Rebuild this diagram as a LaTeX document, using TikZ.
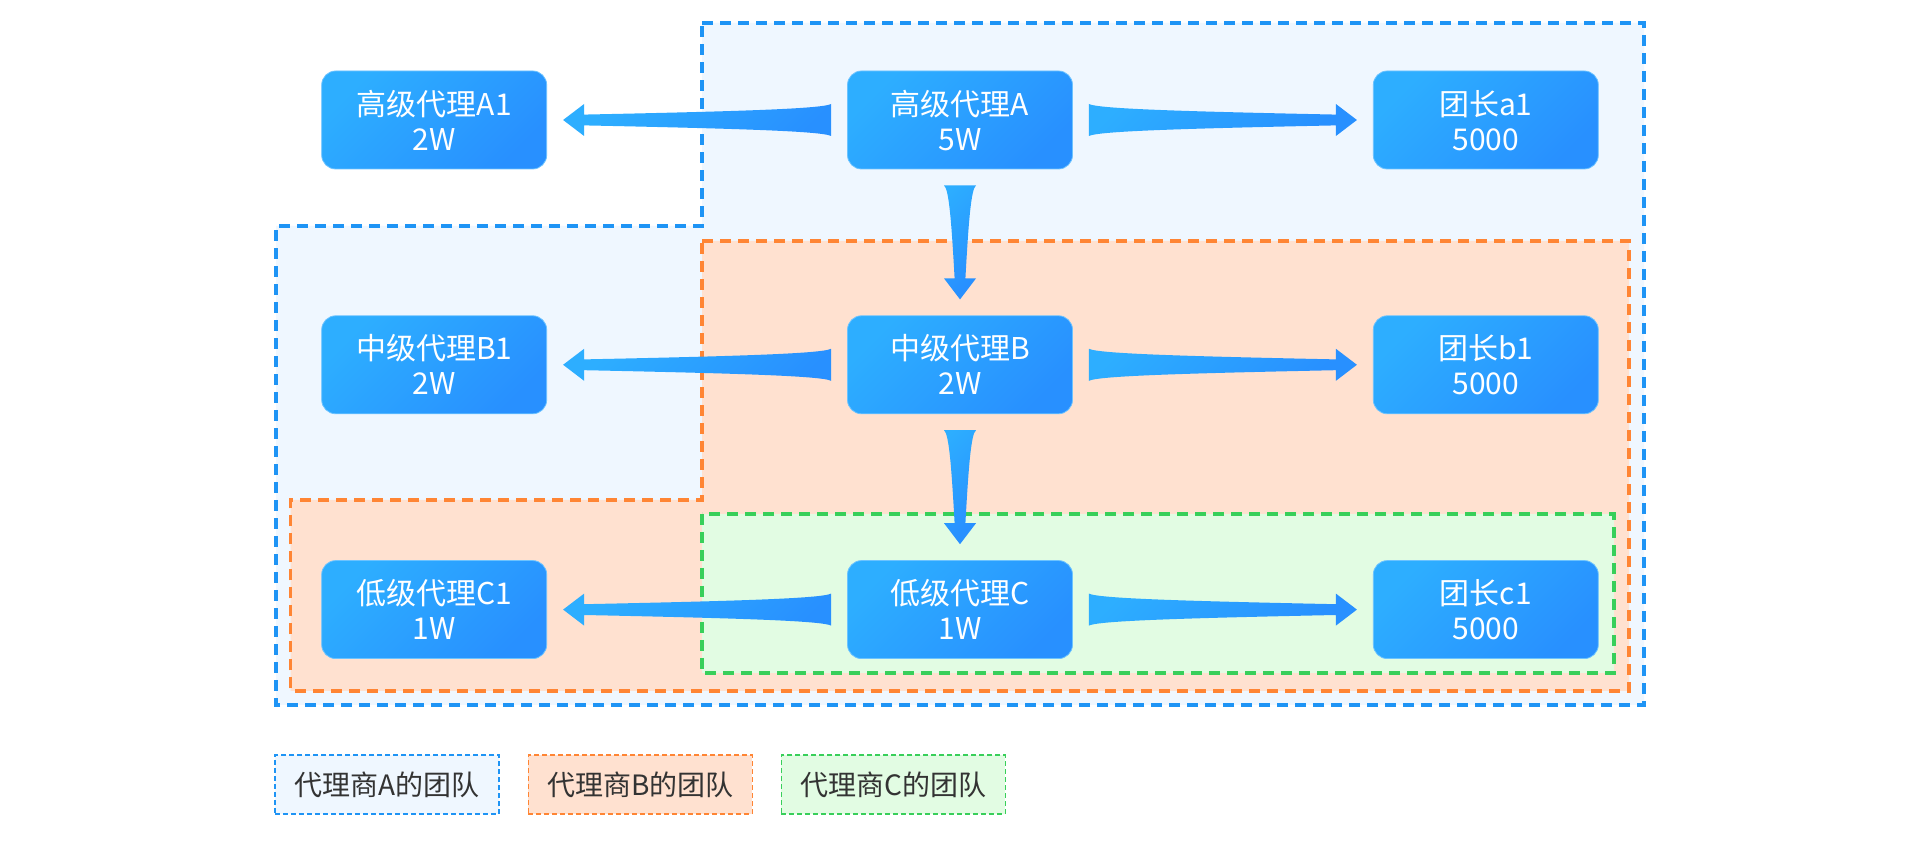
\documentclass[tikz,border=0pt]{standalone}
\usepackage{fontspec}
\setmainfont{Noto Sans CJK SC}
\usetikzlibrary{calc, positioning}

\definecolor{boxlight}{HTML}{2DAEFF}
\definecolor{boxdark}{HTML}{2890FF}
\definecolor{boxedge}{HTML}{6CC3FF}
\definecolor{teamAfill}{HTML}{EFF7FF}
\definecolor{teamAline}{HTML}{1E94F5}
\definecolor{teamBfill}{HTML}{FFE1D0}
\definecolor{teamBline}{HTML}{FF8534}
\definecolor{teamCfill}{HTML}{E2FCE3}
\definecolor{teamCline}{HTML}{38CF5A}
\definecolor{keytext}{HTML}{333333}

\begin{document}
\begin{tikzpicture}[x=1pt, y=1pt, node distance={73pt and 150pt},
  agent/.style={rounded corners=7pt, minimum width=112.5pt, minimum height=49pt, inner sep=0pt,
    top color=boxlight, bottom color=boxdark, shading angle=45, draw=boxedge, line width=0.4pt,
    text=white, align=center, text depth=0pt, font=\fontsize{15pt}{17.5pt}\selectfont},
  team/.style={line width=1.7pt, dash pattern=on 5.5pt off 3.5pt},
  key/.style={minimum width=112pt, minimum height=29.5pt, line width=0.6pt, dash pattern=on 2.5pt off 1.5pt,
    text=keytext, font=\fontsize{14pt}{16pt}\selectfont},
  flow/.style={top color=boxlight, bottom color=boxdark, shading angle=45,
    to path={let \p1=(\tikztostart), \p2=(\tikztotarget),
        \n1={veclen(\x2-\x1,\y2-\y1)}, \n2={(\x2-\x1)/\n1}, \n3={(\y2-\y1)/\n1},
        \n4={\n1-26.5}, \n5={8+0.04*\n4}, \n6={8+0.4*\n4}, \n7={\n1-18.5}, \n8={\n1-8} in
      ({\x1+8*\n2-8*\n3},{\y1+8*\n3+8*\n2})
      .. controls ({\x1+\n5*\n2-5.5*\n3},{\y1+\n5*\n3+5.5*\n2}) and ({\x1+\n6*\n2-4.25*\n3},{\y1+\n6*\n3+4.25*\n2})
      .. ({\x1+\n7*\n2-2.7*\n3},{\y1+\n7*\n3+2.7*\n2})
      -- ({\x1+\n7*\n2-8*\n3},{\y1+\n7*\n3+8*\n2})
      -- ({\x1+\n8*\n2},{\y1+\n8*\n3})
      -- ({\x1+\n7*\n2+8*\n3},{\y1+\n7*\n3-8*\n2})
      -- ({\x1+\n7*\n2+2.7*\n3},{\y1+\n7*\n3-2.7*\n2})
      .. controls ({\x1+\n6*\n2+4.25*\n3},{\y1+\n6*\n3-4.25*\n2}) and ({\x1+\n5*\n2+5.5*\n3},{\y1+\n5*\n3-5.5*\n2})
      .. ({\x1+8*\n2+8*\n3},{\y1+8*\n3-8*\n2}) -- cycle}}]
  \fill[white] (0,0) rectangle (960,420);

  % team areas
  \filldraw[team, fill=teamAfill, draw=teamAline] (351,408.5) -- (822,408.5) -- (822,67.5) -- (138,67.5) -- (138,307) -- (351,307) -- cycle;
  \filldraw[team, fill=teamBfill, draw=teamBline] (351,299.5) -- (814.5,299.5) -- (814.5,74.5) -- (145.25,74.5) -- (145.25,170) -- (351,170) -- cycle;
  \filldraw[team, fill=teamCfill, draw=teamCline] (351,163) rectangle (807,83.5);

  % agents
  \node[agent] (A) at (480,360) {高级代理A\\5W};
  \node[agent, left=of A] (A1) {高级代理A1\\2W};
  \node[agent, right=of A] (a1) {团长a1\\5000};
  \node[agent, below=of A] (B) {中级代理B\\2W};
  \node[agent, left=of B] (B1) {中级代理B1\\2W};
  \node[agent, right=of B] (b1) {团长b1\\5000};
  \node[agent, below=of B] (C) {低级代理C\\1W};
  \node[agent, left=of C] (C1) {低级代理C1\\1W};
  \node[agent, right=of C] (c1) {团长c1\\5000};

  \path[flow] (A.west) to (A1.east);
  \path[flow] (A.east) to (a1.west);
  \path[flow] (A.south) to (B.north);
  \path[flow] (B.west) to (B1.east);
  \path[flow] (B.east) to (b1.west);
  \path[flow] (B.south) to (C.north);
  \path[flow] (C.west) to (C1.east);
  \path[flow] (C.east) to (c1.west);

  % legend
  \node[key, fill=teamAfill, draw=teamAline] (keyA) at (193.5,27.75) {代理商A的团队};
  \node[key, fill=teamBfill, draw=teamBline, right=14pt of keyA] (keyB) {代理商B的团队};
  \node[key, fill=teamCfill, draw=teamCline, right=14pt of keyB] (keyC) {代理商C的团队};
\end{tikzpicture}
\end{document}
